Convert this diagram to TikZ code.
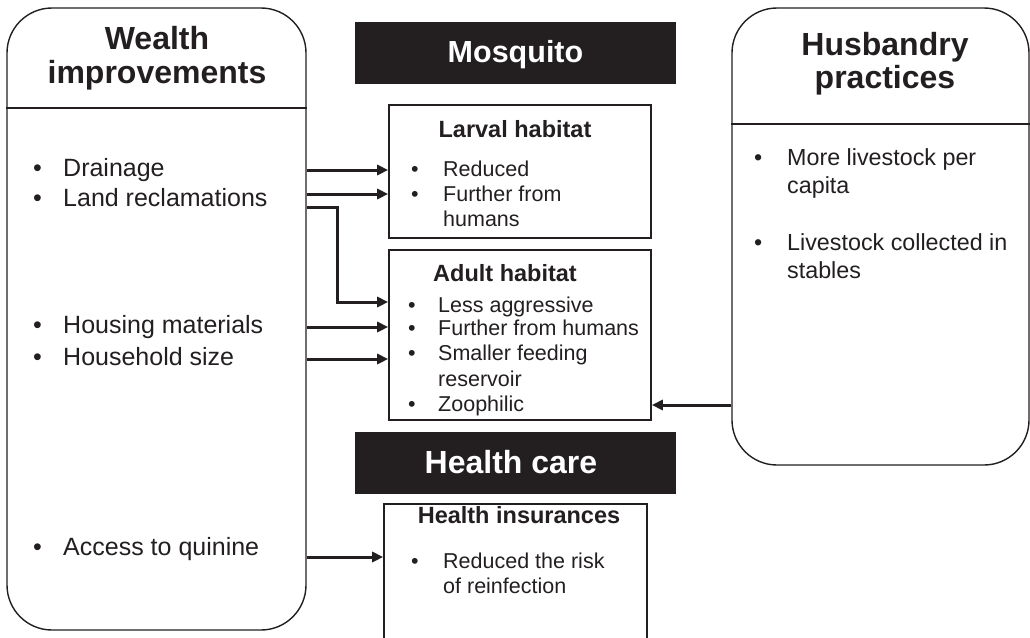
\documentclass[tikz,border=0pt]{standalone}
\usepackage{fontspec}
\setmainfont{Liberation Sans}
\usetikzlibrary{arrows.meta}
\definecolor{ink}{HTML}{231F20}
\begin{document}
\begin{tikzpicture}[x=1pt,y=-1pt,
  bigbox/.style={draw=ink, line width=1.4pt, rounded corners=45pt, inner sep=0pt},
  subbox/.style={draw=ink, line width=1.6pt, inner sep=0pt},
  band/.style={fill=ink, inner sep=0pt},
  bandtxt/.style={text=white, font=\bfseries\fontsize{30.5}{34}\selectfont, anchor=base, inner sep=0pt},
  bigtitle/.style={text=ink, font=\bfseries\fontsize{32}{34}\selectfont, anchor=base, inner sep=0pt},
  subtitle/.style={text=ink, font=\bfseries\fontsize{23.5}{26}\selectfont, anchor=base, inner sep=0pt},
  bigtxt/.style={text=ink, font=\fontsize{25}{28}\selectfont, anchor=base west, inner sep=0pt},
  midtxt/.style={text=ink, font=\fontsize{23.3}{28}\selectfont, anchor=base west, inner sep=0pt},
  smalltxt/.style={text=ink, font=\fontsize{21.5}{24}\selectfont, anchor=base west, inner sep=0pt},
  conn/.style={draw=ink, line width=3pt, -{Triangle[length=11pt,width=10pt]}},
  divider/.style={draw=ink, line width=1.4pt}]
\path[use as bounding box] (0,0) rectangle (1030,637);
\clip (0,0) rectangle (1030,637);

% main boxes
\node[bigbox, minimum width=299pt, minimum height=622pt] (wealth) at (156.5,319) {};
\node[bigbox, minimum width=297pt, minimum height=457pt] (husb) at (880.5,236.5) {};
\coordinate (wdiv) at (0,108);
\coordinate (hdiv) at (0,124);
\draw[divider] (wealth.west |- wdiv) -- (wealth.east |- wdiv);
\draw[divider] (husb.west |- hdiv) -- (husb.east |- hdiv);

% bands
\node[band, minimum width=321pt, minimum height=62pt] (mosq) at (515.5,53) {};
\node[band, minimum width=321pt, minimum height=62pt] (hcare) at (515.5,463) {};
\node[bandtxt] (mosqt) at (515.5,62) {Mosquito};
\node[bandtxt, font=\bfseries\fontsize{32}{34}\selectfont] (hcaret) at (511,473) {Health care};

% sub boxes
\node[subbox, minimum width=262pt, minimum height=133pt] (larval) at (520,171.5) {};
\node[subbox, minimum width=262pt, minimum height=170pt] (adult) at (520,335) {};
\node[subbox, minimum width=263pt, minimum height=150pt] (ins) at (515.5,579) {};

% titles
\node[bigtitle] (wt1) at (157,49) {Wealth};
\node[bigtitle] (wt2) at (157,83) {improvements};
\node[bigtitle] (ht1) at (885,55) {Husbandry};
\node[bigtitle] (ht2) at (885,88) {practices};
\node[subtitle] (lt) at (515,137) {Larval habitat};
\node[subtitle] (at) at (505,281) {Adult habitat};
\node[subtitle] (it) at (519,523) {Health insurances};

% wealth bullets
\node[bigtxt] (wb1) at (33,176) {•};
\node[bigtxt] (w1) at (63,176) {Drainage};
\node[bigtxt] (wb2) at (33,206) {•};
\node[bigtxt] (w2) at (63,206) {Land reclamations};
\node[bigtxt] (wb3) at (33,333) {•};
\node[bigtxt] (w3) at (63,333) {Housing materials};
\node[bigtxt] (wb4) at (33,365) {•};
\node[bigtxt] (w4) at (63,365) {Household size};
\node[bigtxt] (wb5) at (33,555) {•};
\node[bigtxt] (w5) at (63,555) {Access to quinine};

% husbandry bullets
\node[midtxt] (hb1) at (754,165) {•};
\node[midtxt] (h1) at (787,165) {More livestock per};
\node[midtxt] (h1b) at (787,193) {capita};
\node[midtxt] (hb2) at (754,250) {•};
\node[midtxt] (h2) at (787,250) {Livestock collected in};
\node[midtxt] (h2b) at (787,278) {stables};

% larval bullets
\node[smalltxt] (lb1) at (411,176) {•};
\node[smalltxt] (l1) at (443,176) {Reduced};
\node[smalltxt] (lb2) at (411,201) {•};
\node[smalltxt] (l2) at (443,201) {Further from};
\node[smalltxt] (l2b) at (443,226) {humans};

% adult bullets
\node[smalltxt] (ab1) at (408,312) {•};
\node[smalltxt] (a1) at (438,312) {Less aggressive};
\node[smalltxt] (ab2) at (408,335) {•};
\node[smalltxt] (a2) at (438,335) {Further from humans};
\node[smalltxt] (ab3) at (408,360) {•};
\node[smalltxt] (a3) at (438,360) {Smaller feeding};
\node[smalltxt] (a3b) at (438,386) {reservoir};
\node[smalltxt] (ab4) at (408,411) {•};
\node[smalltxt] (a4) at (438,411) {Zoophilic};

% insurance bullets
\node[smalltxt] (ib1) at (411,568) {•};
\node[smalltxt] (i1) at (443,568) {Reduced the risk};
\node[smalltxt] (i1b) at (443,593) {of reinfection};

% connectors
\coordinate (y1) at (0,170);
\coordinate (y2) at (0,194);
\coordinate (y3) at (0,207);
\coordinate (y3b) at (0,302);
\coordinate (y4) at (0,327);
\coordinate (y5) at (0,359);
\coordinate (y6) at (0,405);
\coordinate (y7) at (0,557);
\coordinate (bend) at (337,0);
\draw[conn] (wealth.east |- y1) -- (larval.west |- y1);
\draw[conn] (wealth.east |- y2) -- (larval.west |- y2);
\draw[conn] (wealth.east |- y3) -- (bend |- y3) -- (bend |- y3b) -- (adult.west |- y3b);
\draw[conn] (wealth.east |- y4) -- (adult.west |- y4);
\draw[conn] (wealth.east |- y5) -- (adult.west |- y5);
\draw[conn] (husb.west |- y6) -- (adult.east |- y6);
\draw[conn] (wealth.east |- y7) -- (ins.west |- y7);
\end{tikzpicture}
\end{document}
